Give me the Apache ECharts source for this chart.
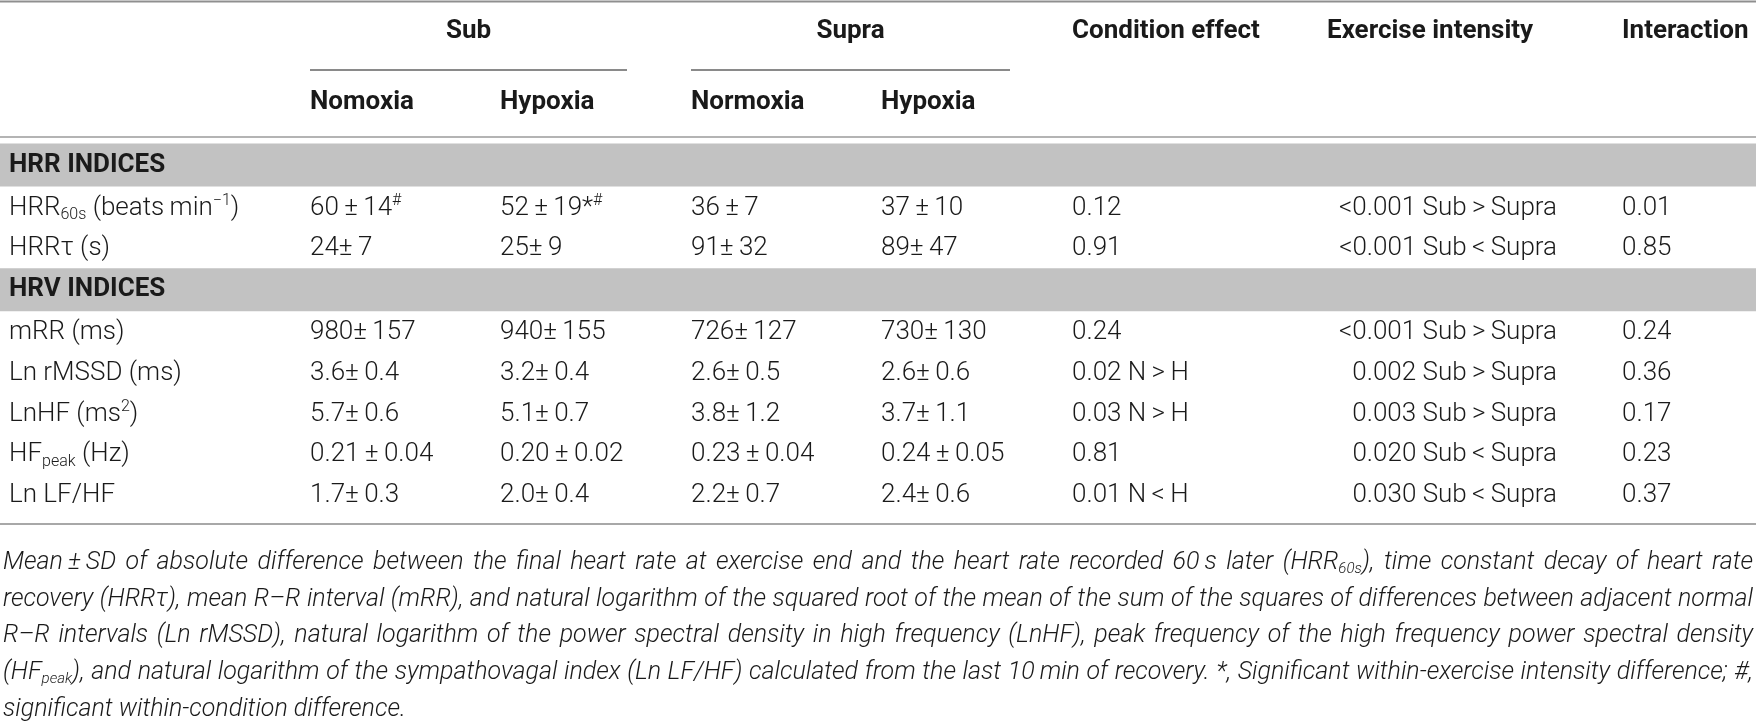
<!DOCTYPE html>
<html><head><meta charset="utf-8">
<script src="https://cdn.jsdelivr.net/npm/echarts@6/dist/echarts.min.js"></script>
<style>html,body{margin:0;padding:0;background:#fff}#c{width:1756px;height:724px}</style>
</head><body><div id="c"></div><script>
// ---------- data ----------
const groupHeaders = ['Sub', 'Supra'];
const conditionHeaders = ['Nomoxia', 'Hypoxia', 'Normoxia', 'Hypoxia'];
const effectHeaders = ['Condition effect', 'Exercise intensity', 'Interaction'];
const sectionTitles = ['HRR INDICES', 'HRV INDICES'];
const sectionRowCounts = [2, 5];
const rowLabels = ['HRR{sub|60s} (beats\u2009min{sup|\u22121})', 'HRR\u03c4 (s)', 'mRR (ms)', 'Ln rMSSD (ms)', 'LnHF (ms{sup|2})', 'HF{sub|peak} (Hz)', 'Ln LF/HF'];
const subNormoxia = ['60\u2009\u00b1\u200914{sup|#}', '24\u00b1\u20097', '980\u00b1\u2009157', '3.6\u00b1\u20090.4', '5.7\u00b1\u20090.6', '0.21\u2009\u00b1\u20090.04', '1.7\u00b1\u20090.3'];
const subHypoxia = ['52\u2009\u00b1\u200919*{sup|#}', '25\u00b1\u20099', '940\u00b1\u2009155', '3.2\u00b1\u20090.4', '5.1\u00b1\u20090.7', '0.20\u2009\u00b1\u20090.02', '2.0\u00b1\u20090.4'];
const supraNormoxia = ['36\u2009\u00b1\u20097', '91\u00b1\u200932', '726\u00b1\u2009127', '2.6\u00b1\u20090.5', '3.8\u00b1\u20091.2', '0.23\u2009\u00b1\u20090.04', '2.2\u00b1\u20090.7'];
const supraHypoxia = ['37\u2009\u00b1\u200910', '89\u00b1\u200947', '730\u00b1\u2009130', '2.6\u00b1\u20090.6', '3.7\u00b1\u20091.1', '0.24\u2009\u00b1\u20090.05', '2.4\u00b1\u20090.6'];
const conditionEffect = ['0.12', '0.91', '0.24', '0.02 N\u2009>\u2009H', '0.03 N\u2009>\u2009H', '0.81', '0.01 N\u2009<\u2009H'];
const exerciseIntensity = ['<0.001 Sub\u2009>\u2009Supra', '<0.001 Sub\u2009<\u2009Supra', '<0.001 Sub\u2009>\u2009Supra', '0.002 Sub\u2009>\u2009Supra', '0.003 Sub\u2009>\u2009Supra', '0.020 Sub\u2009<\u2009Supra', '0.030 Sub\u2009<\u2009Supra'];
const interaction = ['0.01', '0.85', '0.24', '0.36', '0.17', '0.23', '0.37'];
const captionLines = [
  'Mean\u2009\u00b1\u2009SD of absolute difference between the final heart rate at exercise end and the heart rate recorded 60\u2009s later (HRR{cs|60s}), time constant decay of heart rate',
  'recovery (HRR\u03c4), mean R\u2013R interval (mRR), and natural logarithm of the squared root of the mean of the sum of the squares of differences between adjacent normal',
  'R\u2013R intervals (Ln rMSSD), natural logarithm of the power spectral density in high frequency (LnHF), peak frequency of the high frequency power spectral density',
  '(HF{cs|peak}), and natural logarithm of the sympathovagal index (Ln LF/HF) calculated from the last 10\u2009min of recovery. *, Significant within-exercise intensity difference; #,',
  'significant within-condition difference.'
];

// ---------- layout & style ----------
const FONT = 'Roboto, "Liberation Sans", "DejaVu Sans", sans-serif';
const INK = '#1a1a1a';
const L = {
  labelX: 9, colX: [310, 500, 691, 881], condX: 1072, eiX: 1327, eiRight: 1557, interX: 1622,
  groupSpan: [[310, 627], [691, 1010]], groupY: 31, groupLineY: 70, subHeadY: 102,
  ruleTop: 1.5, ruleMid: 137, ruleBottom: 524,
  firstBandY: 165, bandToRow: 43, rowStep: 40.7, rowToBand: 41, bandH: 43,
  capY0: 563, capStep: 36.6, capLeft: 3, capRight: 1753
};
const bodySize = 26, headSize = 26, capSize = 25;
const bodyRich = {
  sub: { fontSize: 16, fontWeight: 300, fontFamily: FONT, fill: INK, verticalAlign: 'bottom', lineHeight: 16 },
  sup: { fontSize: 16, fontWeight: 300, fontFamily: FONT, fill: INK, verticalAlign: 'top', lineHeight: 16 }
};
const capRich = {
  cs: { fontSize: 15, fontStyle: 'italic', fontWeight: 300, fontFamily: FONT, fill: INK, verticalAlign: 'bottom', lineHeight: 15 }
};

const els = [];
function txt(text, x, y, opt) {
  opt = opt || {};
  els.push({
    type: 'text', silent: true, z: 10,
    style: Object.assign({
      text: text, x: x, y: y, fill: INK, fontFamily: FONT, fontSize: bodySize, fontWeight: 300,
      align: 'left', verticalAlign: 'middle', lineHeight: 30, rich: bodyRich
    }, opt)
  });
}
function hline(x1, x2, y, color, w) {
  els.push({ type: 'line', silent: true, z: 5, shape: { x1: x1, y1: y, x2: x2, y2: y }, style: { stroke: color, lineWidth: w } });
}

// rules
hline(0, 1756, L.ruleTop, '#8f8f8f', 2);
hline(0, 1756, L.ruleMid, '#b4b4b4', 2);
hline(0, 1756, L.ruleBottom, '#a8a8a8', 2);

// headers
groupHeaders.forEach((g, i) => {
  const [a, b] = L.groupSpan[i];
  txt(g, (a + b) / 2, L.groupY, { fontWeight: 'bold', fontSize: headSize, align: 'center' });
  hline(a, b, L.groupLineY, '#8a8a8a', 2);
});
conditionHeaders.forEach((c, i) => txt(c, L.colX[i], L.subHeadY, { fontWeight: 'bold', fontSize: headSize }));
[L.condX, L.eiX, L.interX].forEach((x, i) => {
  txt(effectHeaders[i], x, L.groupY, { fontWeight: 'bold', fontSize: headSize });
});

// body
let y = L.firstBandY, r = 0;
sectionTitles.forEach((title, s) => {
  els.push({ type: 'rect', silent: true, z: 1, shape: { x: 0, y: y - L.bandH / 2, width: 1756, height: L.bandH }, style: { fill: '#c2c2c2' } });
  txt(title, L.labelX, y, { fontWeight: 'bold', fontSize: headSize });
  y += L.bandToRow;
  for (let k = 0; k < sectionRowCounts[s]; k++, r++) {
    txt(rowLabels[r], L.labelX, y);
    [subNormoxia, subHypoxia, supraNormoxia, supraHypoxia].forEach((arr, c) => txt(arr[r], L.colX[c], y));
    txt(conditionEffect[r], L.condX, y);
    txt(exerciseIntensity[r], L.eiRight, y, { align: 'right' });
    txt(interaction[r], L.interX, y);
    y += (k < sectionRowCounts[s] - 1) ? L.rowStep : L.rowToBand;
  }
});

// caption (justified by measuring words)
const ctx = document.createElement('canvas').getContext('2d');
function measure(str) {
  let w = 0, last = 0, m;
  const re = /\{(\w+)\|([^}]*)\}/g;
  const seg = (t, size) => { ctx.font = 'italic 300 ' + size + 'px ' + FONT; return ctx.measureText(t).width; };
  while ((m = re.exec(str))) {
    w += seg(str.slice(last, m.index), capSize);
    w += seg(m[2], capRich[m[1]].fontSize);
    last = re.lastIndex;
  }
  w += seg(str.slice(last), capSize);
  return w;
}
captionLines.forEach((line, i) => {
  const words = line.split(' ');
  const widths = words.map(measure);
  const total = widths.reduce((a, b) => a + b, 0);
  const justify = i < captionLines.length - 1;
  const gap = justify ? (L.capRight - L.capLeft - total) / (words.length - 1) : measure(' ');
  let x = L.capLeft;
  const cy = L.capY0 + i * L.capStep;
  words.forEach((w, j) => {
    txt(w, x, cy, { fontStyle: 'italic', fontSize: capSize, rich: capRich, lineHeight: 28 });
    x += widths[j] + gap;
  });
});

const chart = echarts.init(document.getElementById('c'), null, { renderer: 'canvas' });
chart.setOption({ backgroundColor: '#ffffff', animation: false, graphic: { elements: els } });
</script></body></html>
